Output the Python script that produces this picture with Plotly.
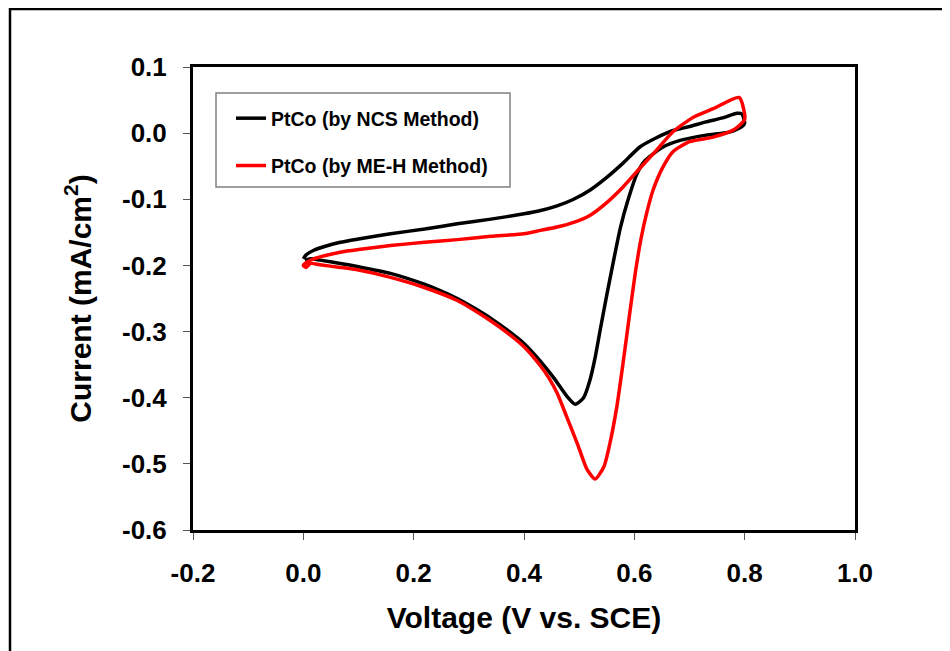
import plotly.graph_objects as go

# ---- data ----
ncs_v = [0.0, 0.005, 0.019, 0.04, 0.067, 0.10, 0.158, 0.22, 0.279, 0.34, 0.40, 0.43,
         0.46, 0.49, 0.52, 0.55, 0.58, 0.61, 0.64, 0.67, 0.70, 0.73, 0.76, 0.786, 0.795,
         0.80, 0.795, 0.774, 0.73, 0.683, 0.652, 0.62, 0.605, 0.59, 0.575, 0.563, 0.55,
         0.538, 0.529, 0.52, 0.508, 0.493, 0.478, 0.454, 0.43, 0.40, 0.37, 0.34, 0.309,
         0.279, 0.248, 0.218, 0.158, 0.10, 0.067, 0.03, 0.013, 0.003]
ncs_i = [-0.190, -0.184, -0.177, -0.171, -0.165, -0.160, -0.152, -0.145, -0.137, -0.130, -0.122, -0.117,
         -0.110, -0.100, -0.086, -0.067, -0.045, -0.021, -0.007, 0.004, 0.010, 0.017, 0.023, 0.030, 0.029,
         0.015, 0.010, 0.002, -0.003, -0.011, -0.021, -0.041, -0.061, -0.097, -0.142, -0.190, -0.245,
         -0.298, -0.339, -0.372, -0.400, -0.410, -0.398, -0.370, -0.345, -0.318, -0.298, -0.280, -0.264,
         -0.250, -0.238, -0.228, -0.212, -0.202, -0.197, -0.192, -0.190, -0.192]

meh_v = [0.0, 0.005, 0.019, 0.04, 0.067, 0.10, 0.158, 0.22, 0.279, 0.34, 0.40, 0.43,
         0.46, 0.49, 0.52, 0.55, 0.58, 0.61, 0.64, 0.67, 0.707, 0.743, 0.79,
         0.80, 0.78, 0.743, 0.70, 0.67, 0.652, 0.634, 0.622, 0.612, 0.602, 0.592, 0.58,
         0.568, 0.556, 0.545, 0.529, 0.514, 0.497, 0.478, 0.46, 0.445, 0.43, 0.40, 0.37,
         0.34, 0.279, 0.218, 0.158, 0.10, 0.067, 0.03, 0.013, 0.005, 0.0]
meh_i = [-0.200, -0.196, -0.190, -0.185, -0.180, -0.176, -0.170, -0.165, -0.161, -0.156, -0.152, -0.147,
         -0.142, -0.135, -0.124, -0.105, -0.081, -0.053, -0.026, 0.002, 0.024, 0.037, 0.054,
         0.021, 0.005, -0.006, -0.013, -0.028, -0.051, -0.086, -0.122, -0.160, -0.210, -0.270, -0.345,
         -0.415, -0.468, -0.504, -0.523, -0.508, -0.470, -0.430, -0.393, -0.370, -0.352, -0.323, -0.302,
         -0.284, -0.253, -0.233, -0.218, -0.207, -0.203, -0.199, -0.197, -0.203, -0.200]

series_names = ["PtCo (by NCS Method)", "PtCo (by ME-H Method)"]
series_colors = ["#000000", "#FF0000"]

x_ticks = [-0.2, 0.0, 0.2, 0.4, 0.6, 0.8, 1.0]
x_ticktext = ["-0.2", "0.0", "0.2", "0.4", "0.6", "0.8", "1.0"]
y_ticks = [-0.6, -0.5, -0.4, -0.3, -0.2, -0.1, 0.0, 0.1]
y_ticktext = ["-0.6", "-0.5", "-0.4", "-0.3", "-0.2", "-0.1", "0.0", "0.1"]

FONT = "Arial, Liberation Sans, sans-serif"

fig = go.Figure()
for v, i, name, col, grp in [(ncs_v, ncs_i, series_names[0], series_colors[0], "a"),
                             (meh_v, meh_i, series_names[1], series_colors[1], "b")]:
    fig.add_trace(go.Scatter(x=v, y=i, mode="lines", name=name, legendgroup=grp,
                             line=dict(color=col, width=3.5, shape="spline", smoothing=0.6)))

# page body has an 8px margin; work in svg coordinates
OFF = 8
W, H = 950, 651
L, R, T, B = 193 - OFF, 855 - OFF, 67 - OFF, 530 - OFF
pw, ph = R - L, B - T

def px(x):
    return (x - OFF - L) / pw

def py(y):
    return (B - (y - OFF)) / ph

axis_common = dict(showline=True, linecolor="black", linewidth=3, mirror=True,
                   ticks="outside", ticklen=7, tickwidth=1, tickcolor="#555555",
                   showgrid=False, zeroline=False,
                   tickfont=dict(family=FONT, size=26, color="black", weight="bold"))

fig.update_layout(
    width=W, height=H,
    margin=dict(l=L, r=W - R, t=T, b=H - B, pad=0),
    paper_bgcolor="white", plot_bgcolor="white",
    xaxis=dict(range=[-0.2, 1.0], tickvals=x_ticks, ticktext=x_ticktext,
               ticklabelstandoff=11,
               title=dict(text="Voltage (V vs. SCE)", standoff=20,
                          font=dict(family=FONT, size=30, color="black", weight="bold")),
               **axis_common),
    yaxis=dict(range=[-0.6, 0.1], tickvals=y_ticks, ticktext=y_ticktext,
               ticklabelstandoff=11,
               title=dict(text="Current (mA/cm<sup>2</sup>)", standoff=22,
                          font=dict(family=FONT, size=30, color="black", weight="bold")),
               **axis_common),
    showlegend=True,
    legend=dict(x=px(231), y=py(99), xanchor="left", yanchor="top",
                bgcolor="rgba(0,0,0,0)", borderwidth=0, traceorder="grouped",
                tracegroupgap=19,
                font=dict(family=FONT, size=19.5, color="black", weight="bold")),
    shapes=[
        dict(type="rect", xref="paper", yref="paper", x0=px(10), x1=px(970),
             y0=py(670), y1=py(9), line=dict(color="black", width=2.5), layer="below"),
        dict(type="rect", xref="paper", yref="paper", x0=px(216), x1=px(510),
             y0=py(187), y1=py(93), line=dict(color="#808080", width=1.5),
             fillcolor="white", layer="above"),
    ],
)

fig.write_html("out.html")
